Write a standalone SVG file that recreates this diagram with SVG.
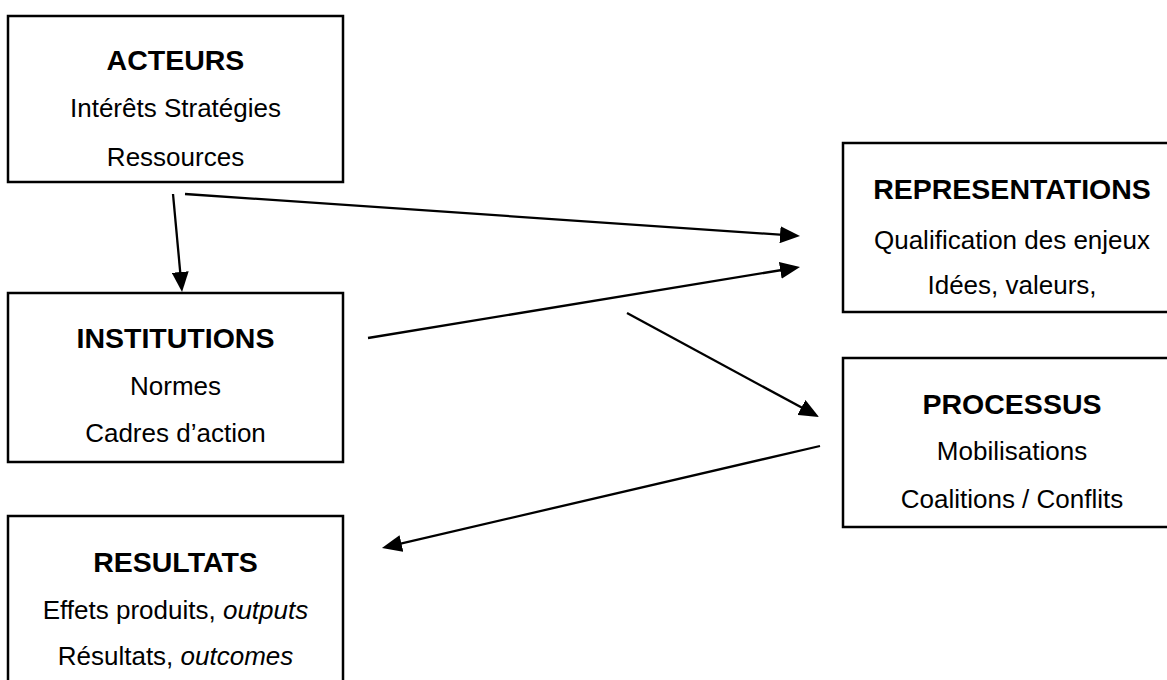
<svg xmlns="http://www.w3.org/2000/svg" width="1167" height="680" viewBox="0 0 1167 680">
<style>
.box{fill:#fff;stroke:#000;stroke-width:2.5}
.t{font-family:"Liberation Sans",Arial,sans-serif;text-anchor:middle;fill:#000}
.h{font-size:28.5px;font-weight:bold}
.r{font-size:26px}
.i{font-style:italic}
.c{stroke:#000;stroke-width:2.3;fill:none;marker-end:url(#ah)}
</style>
<defs>
<marker id="ah" markerUnits="userSpaceOnUse" markerWidth="20" markerHeight="17" viewBox="0 0 20 17" refX="14" refY="8.5" orient="auto">
<path d="M0,0 L20,8.5 L0,17 z" fill="#000"/>
</marker>
</defs>
<rect width="1167" height="680" fill="#fff"/>
<g id="acteurs">
<rect class="box" x="8" y="16" width="335" height="166"/>
<text class="t h" x="175.5" y="70">ACTEURS</text>
<text class="t r" x="175.5" y="117">Intérêts Stratégies</text>
<text class="t r" x="175.5" y="166">Ressources</text>
</g>
<g id="institutions">
<rect class="box" x="8" y="293" width="335" height="169"/>
<text class="t h" x="175.5" y="348">INSTITUTIONS</text>
<text class="t r" x="175.5" y="395">Normes</text>
<text class="t r" x="175.5" y="442">Cadres d’action</text>
</g>
<g id="resultats">
<rect class="box" x="8" y="516" width="335" height="169"/>
<text class="t h" x="175.5" y="572">RESULTATS</text>
<text class="t r" x="175.5" y="619">Effets produits, <tspan class="i">outputs</tspan></text>
<text class="t r" x="175.5" y="665">Résultats, <tspan class="i">outcomes</tspan></text>
</g>
<g id="representations">
<rect class="box" x="843" y="143" width="335" height="169"/>
<text class="t h" x="1012" y="199">REPRESENTATIONS</text>
<text class="t r" x="1012" y="249">Qualification des enjeux</text>
<text class="t r" x="1012" y="294">Idées, valeurs,</text>
</g>
<g id="processus">
<rect class="box" x="843" y="358" width="335" height="169"/>
<text class="t h" x="1012" y="414">PROCESSUS</text>
<text class="t r" x="1012" y="460">Mobilisations</text>
<text class="t r" x="1012" y="508">Coalitions / Conflits</text>
</g>
<g id="connectors">
<line class="c" x1="173" y1="194" x2="181.5" y2="286"/>
<line class="c" x1="185" y1="194" x2="794" y2="235.6"/>
<line class="c" x1="368" y1="338" x2="794.1" y2="268"/>
<line class="c" x1="627" y1="313" x2="813.7" y2="414.1"/>
<line class="c" x1="820" y1="446" x2="387.8" y2="546.6"/>
</g>
</svg>
